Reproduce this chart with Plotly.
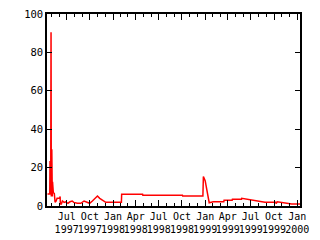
import plotly.graph_objects as go

dates = [
    "1997-04-16", "1997-04-25", "1997-04-26", "1997-04-29", "1997-04-30",
    "1997-05-01", "1997-05-03", "1997-05-05", "1997-05-06", "1997-05-09",
    "1997-05-13", "1997-05-16", "1997-05-20", "1997-05-24", "1997-06-03",
    "1997-06-05", "1997-06-06", "1997-06-10", "1997-06-14", "1997-06-21",
    "1997-06-27", "1997-07-06", "1997-07-14", "1997-07-23", "1997-07-29",
    "1997-08-12", "1997-08-26", "1997-09-08", "1997-09-21", "1997-09-30",
    "1997-10-11", "1997-10-20", "1997-10-31", "1997-11-09", "1997-11-19",
    "1997-12-03", "1998-02-03", "1998-02-04", "1998-04-28", "1998-04-29",
    "1998-10-03", "1998-10-04", "1998-12-23", "1998-12-25", "1999-01-01",
    "1999-01-17", "1999-02-02", "1999-03-16", "1999-03-17", "1999-04-18",
    "1999-04-19", "1999-05-25", "1999-05-26", "1999-06-21", "1999-07-13",
    "1999-08-03", "1999-08-26", "1999-10-08", "1999-10-09", "1999-10-14",
    "1999-11-01", "1999-12-10", "2000-01-12",
]
values = [
    6.2, 6.2, 23.0, 23.0, 90.5,
    5.0, 29.5, 5.0, 12.6, 7.0,
    6.5, 2.0, 2.5, 4.0, 4.0,
    5.0, 1.0, 1.0, 2.6, 1.9,
    2.2, 1.4, 2.2, 2.6, 1.9,
    1.4, 1.4, 2.6, 1.9, 1.4,
    2.6, 3.6, 5.2, 4.0, 3.1,
    1.9, 1.9, 6.1, 6.1, 5.6,
    5.6, 5.2, 5.2, 15.3, 13.2,
    1.7, 2.2, 2.2, 3.0, 3.0,
    3.5, 3.5, 4.0, 3.5, 3.0,
    2.4, 1.9, 1.9, 1.2, 2.2,
    1.9, 1.0, 1.0,
]
y_ticks = [0, 20, 40, 60, 80, 100]
x_range = ["1997-04-14", "2000-01-12"]

yfont = dict(family="DejaVu Sans Mono", size=10.5, color="black")
xfont = dict(family="DejaVu Sans Mono", size=10, color="black")

fig = go.Figure(go.Scatter(x=dates, y=values, mode="lines",
                           line=dict(color="#ff0000", width=1.5),
                           hoverinfo="skip"))

fig.update_layout(
    width=320, height=240,
    margin=dict(l=47, r=20, t=14, b=34),
    paper_bgcolor="white", plot_bgcolor="white",
    showlegend=False,
    font=yfont,
)
fig.update_xaxes(
    range=x_range, type="date", automargin=False,
    tick0="1997-01-01", dtick="M3", tickformat="%b<br>%Y", tickangle=0,
    ticks="inside", ticklen=6, tickcolor="black", tickwidth=1,
    minor=dict(dtick="M1", ticks="inside", ticklen=3, tickcolor="black", tickwidth=1),
    showline=True, linecolor="black", linewidth=1.5, mirror="allticks",
    showgrid=False, zeroline=False, tickfont=xfont,
)
fig.update_yaxes(
    range=[0, 100], tickvals=y_ticks, automargin=False,
    ticks="inside", ticklen=5, tickcolor="black", tickwidth=1,
    showline=True, linecolor="black", linewidth=1.5, mirror="allticks",
    showgrid=False, zeroline=False, tickfont=yfont,
)

fig.write_html("out.html")
